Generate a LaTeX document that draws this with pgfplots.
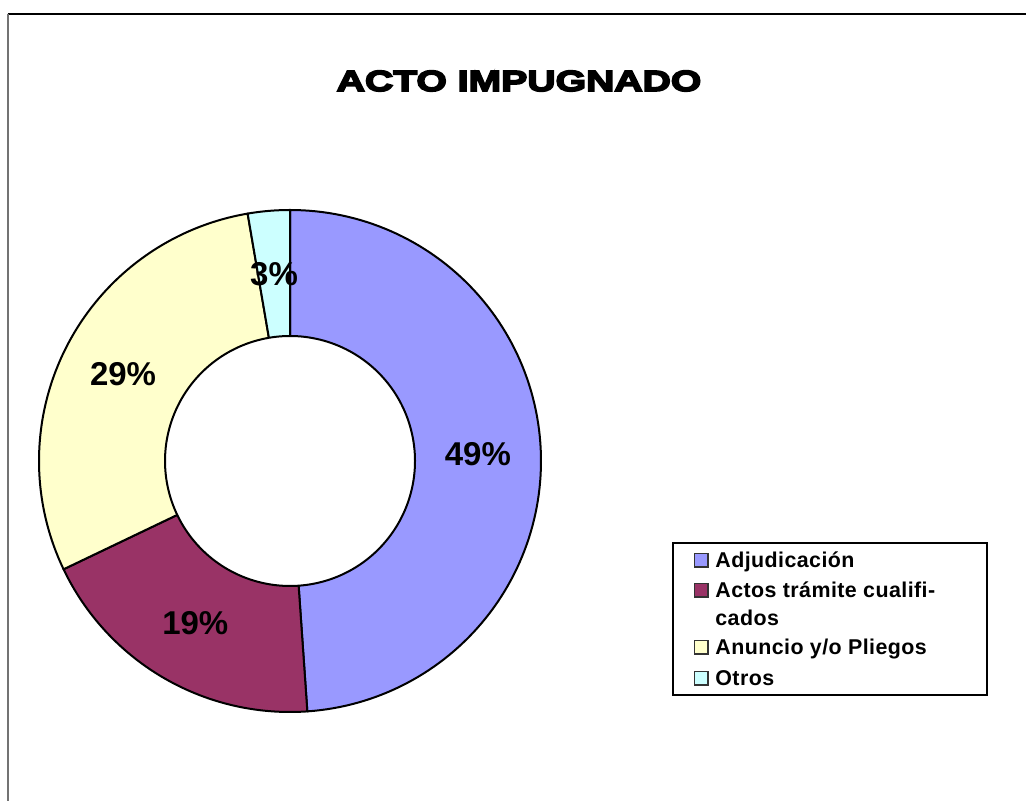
\documentclass[border=0pt]{standalone}
\usepackage{fontspec}
\setmainfont{Liberation Sans}
\newfontfamily\titlefont{Liberation Sans Bold}[FakeStretch=1.35,FakeBold=6]
\newfontfamily\legfont{Liberation Sans Bold}[LetterSpace=2]
\usepackage{pgfplots}
\pgfplotsset{compat=1.18}
\usepackage{pgfplotstable}
\definecolor{cAdj}{HTML}{9999FF}
\definecolor{cAct}{HTML}{993366}
\definecolor{cAnu}{HTML}{FFFFCC}
\definecolor{cOtr}{HTML}{CCFFFF}

% share of each category (percent)
\pgfplotstableread{
slice value
0 48.9
1 19.0
2 29.4
3 2.7
}\piedata

\begin{document}
\begin{tikzpicture}
\path[use as bounding box] (0,0) rectangle (513pt,400.5pt);
\begin{axis}[at={(0,0)}, anchor=south west, scale only axis,
  width=513pt, height=400.5pt, xmin=0, xmax=1026, ymin=0, ymax=801,
  hide axis, clip=false]
% frame
\draw[black, line width=0.7pt] (axis cs:7.7,787) -- (axis cs:1026,787);
\draw[black!55, line width=1pt] (axis cs:7.7,787) -- (axis cs:7.7,0);
% title
\node[inner sep=0pt] at (axis cs:519,720) {\titlefont\fontsize{14.5}{16}\selectfont ACTO IMPUGNADO};
% wedges
\def\cum{0}
\pgfplotsforeachungrouped \i/\col in {0/cAdj,1/cAct,2/cAnu,3/cOtr}{%
  \pgfplotstablegetelem{\i}{value}\of\piedata
  \let\val\pgfplotsretval
  \pgfmathsetmacro{\aStart}{90-3.6*\cum}%
  \pgfmathsetmacro{\cumNew}{\cum+\val}%
  \pgfmathsetmacro{\aEnd}{90-3.6*\cumNew}%
  \edef\doplot{\noexpand\addplot[fill=\col, draw=black, line width=1pt, line join=round,
     domain=\aEnd:\aStart, samples=120, variable=\noexpand\t]
     ({290+251*cos(\noexpand\t)},{340+251*sin(\noexpand\t)}) -- (axis cs:290,340) -- cycle;}%
  \doplot
  \global\let\cum\cumNew
}
% hole
\addplot[fill=white, draw=black, line width=1pt, domain=0:360, samples=200]
  ({290+125*cos(x)},{340+125*sin(x)}) -- cycle;
% labels
\def\cum{0}
\pgfplotsforeachungrouped \i in {0,1,2,3}{%
  \pgfplotstablegetelem{\i}{value}\of\piedata
  \let\val\pgfplotsretval
  \pgfmathsetmacro{\aStart}{90-3.6*\cum}%
  \pgfmathsetmacro{\cumNew}{\cum+\val}%
  \pgfmathsetmacro{\aEnd}{90-3.6*\cumNew}%
  \pgfmathsetmacro{\lx}{290+188*cos((\aStart+\aEnd)/2)}%
  \pgfmathsetmacro{\ly}{340+188*sin((\aStart+\aEnd)/2)}%
  \pgfmathtruncatemacro{\lbl}{round(\val)}%
  \edef\donode{\noexpand\node[inner sep=0pt, font=\noexpand\fontsize{16.5}{18}\noexpand\selectfont\noexpand\bfseries] at (axis cs:\lx,\ly) {\lbl\noexpand\%};}%
  \donode
  \global\let\cum\cumNew
}
% legend
\draw[black, line width=0.6pt] (axis cs:673,258) rectangle (axis cs:987,106);
\filldraw[fill=cAdj, draw=black!80, line width=0.6pt] (axis cs:694.5,247.5) rectangle (axis cs:708,234);
\filldraw[fill=cAct, draw=black!80, line width=0.6pt] (axis cs:694.5,217.5) rectangle (axis cs:708,204);
\filldraw[fill=cAnu, draw=black!80, line width=0.6pt] (axis cs:694.5,160.5) rectangle (axis cs:708,147);
\filldraw[fill=cOtr, draw=black!80, line width=0.6pt] (axis cs:694.5,129.5) rectangle (axis cs:708,116);
\begin{scope}[every node/.style={anchor=base west, inner sep=0pt, font=\legfont\fontsize{10.7}{12}\selectfont}]
\node at (axis cs:715,233) {Adjudicación};
\node at (axis cs:715,203) {Actos trámite cualifi-};
\node at (axis cs:715,175) {cados};
\node at (axis cs:715,146) {Anuncio y/o Pliegos};
\node at (axis cs:715,115) {Otros};
\end{scope}
\end{axis}
\end{tikzpicture}
\end{document}
